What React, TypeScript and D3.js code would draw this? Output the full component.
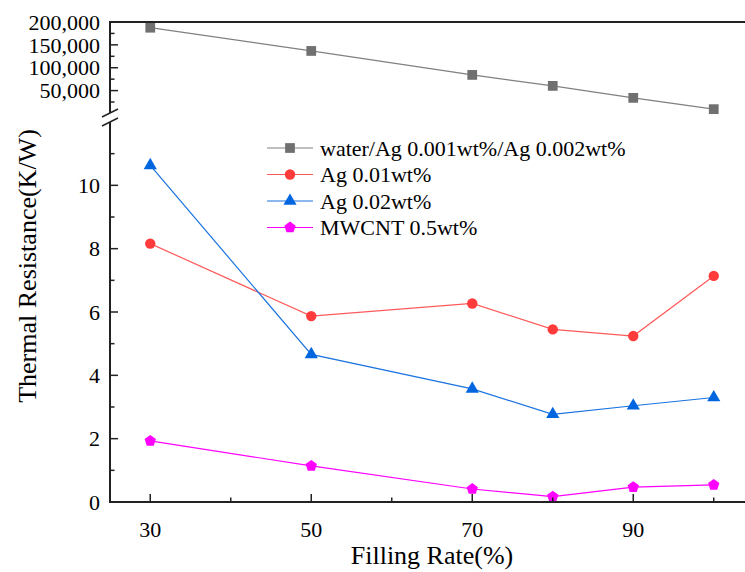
import React from "react";
import * as d3 from "d3";

const fillingRate = [30, 50, 70, 80, 90, 100];
const waterAg = [187500, 136700, 84300, 60300, 34100, 9400];
const ag001 = [8.16, 5.87, 6.27, 5.45, 5.24, 7.14];
const ag002 = [10.63, 4.66, 3.57, 2.77, 3.04, 3.3];
const mwcnt = [1.93, 1.14, 0.41, 0.17, 0.47, 0.54];

const xMajor = [30, 50, 70, 90];
const xMinor = [40, 60, 80, 100];
const topMajor = [50000, 100000, 150000, 200000];
const topMinor = [25000, 75000, 125000, 175000];
const botMajor = [0, 2, 4, 6, 8, 10];
const botMinor = [1, 3, 5, 7, 9, 11];

const legendLabels = [
  "water/Ag 0.001wt%/Ag 0.002wt%",
  "Ag 0.01wt%",
  "Ag 0.02wt%",
  "MWCNT 0.5wt%",
];

const W = 745;
const H = 572;
const left = 110;
const right = 754;
const top = 22;
const topBottom = 113;
const botTop = 122;
const bottom = 502;
const FONT = "Liberation Serif";
const axisColor = "#222";

const T = (props: any) => <text {...props} style={{ fontFamily: FONT }} />;

export default function App() {
  const x = d3.scaleLinear().domain([25, 105]).range([left, right]);
  const yTop = d3.scaleLinear().domain([1000, 200000]).range([topBottom, top]);
  const yBot = d3.scaleLinear().domain([0, 12]).range([bottom, botTop]);
  const fmt = d3.format(",");

  const series = [
    { vals: waterAg, y: yTop, line: "#808080", fill: "#707070", sym: d3.symbolSquare, size: 95 },
    { vals: ag001, y: yBot, line: "#ff5a5a", fill: "#ff3b3b", sym: d3.symbolCircle, size: 85 },
    { vals: ag002, y: yBot, line: "#1a73e0", fill: "#0066e0", sym: d3.symbolTriangle, size: 75 },
    { vals: mwcnt, y: yBot, line: "#ff00ff", fill: "#ff00ff", sym: d3.symbolDiamond, size: 85 },
  ];

  const pentagon = (size: number) => {
    const r = Math.sqrt(size / 2.4);
    const pts: [number, number][] = [];
    for (let i = 0; i < 5; i++) {
      const a = -Math.PI / 2 + (i * 2 * Math.PI) / 5;
      pts.push([r * Math.cos(a), r * Math.sin(a)]);
    }
    return "M" + pts.map((p) => p.join(",")).join("L") + "Z";
  };

  const markerPath = (i: number) => {
    const s = series[i];
    if (i === 3) return pentagon(s.size);
    return d3.symbol().type(s.sym).size(s.size)() as string;
  };

  const legendX = 267;
  const legendY = [148, 174.5, 201, 227.5];

  return (
    <svg
      width={W}
      height={H}
      style={{ position: "absolute", left: 0, top: 0, background: "#fff" }}
    >
      <rect x={0} y={0} width={W} height={H} fill="#fff" />
      {series.map((s, i) => {
        const line = d3
          .line<number>()
          .x((_, j) => x(fillingRate[j]))
          .y((v) => s.y(v));
        return <path key={"l" + i} d={line(s.vals) as string} fill="none" stroke={s.line} strokeWidth={1.2} />;
      })}
      {series.map((s, i) =>
        s.vals.map((v, j) => (
          <path
            key={"m" + i + "-" + j}
            d={markerPath(i)}
            transform={`translate(${x(fillingRate[j])},${s.y(v)})`}
            fill={s.fill}
          />
        ))
      )}
      <line x1={left} x2={right} y1={top} y2={top} stroke={axisColor} strokeWidth={2} />
      <line x1={left} x2={right} y1={bottom} y2={bottom} stroke={axisColor} strokeWidth={2} />
      <line x1={left} x2={left} y1={top - 1} y2={topBottom} stroke={axisColor} strokeWidth={2} />
      <line x1={left} x2={left} y1={botTop} y2={bottom + 1} stroke={axisColor} strokeWidth={2} />
      <line x1={left - 8} x2={left + 8} y1={topBottom + 4} y2={topBottom - 4} stroke={axisColor} strokeWidth={1.5} />
      <line x1={left - 8} x2={left + 8} y1={botTop + 4} y2={botTop - 4} stroke={axisColor} strokeWidth={1.5} />
      {topMajor.map((t) => (
        <g key={"tm" + t}>
          <line x1={left} x2={left + 8} y1={yTop(t)} y2={yTop(t)} stroke={axisColor} strokeWidth={1.5} />
          <T x={100} y={yTop(t)} dy="0.35em" textAnchor="end" fontSize={22} fill="#000">
            {fmt(t)}
          </T>
        </g>
      ))}
      {topMinor.map((t) => (
        <line key={"tn" + t} x1={left} x2={left + 4.5} y1={yTop(t)} y2={yTop(t)} stroke={axisColor} strokeWidth={1.5} />
      ))}
      {botMajor.map((t) => (
        <g key={"bm" + t}>
          <line x1={left} x2={left + 8} y1={yBot(t)} y2={yBot(t)} stroke={axisColor} strokeWidth={1.5} />
          <T x={100} y={yBot(t)} dy="0.35em" textAnchor="end" fontSize={22} fill="#000">
            {t}
          </T>
        </g>
      ))}
      {botMinor.map((t) => (
        <line key={"bn" + t} x1={left} x2={left + 4.5} y1={yBot(t)} y2={yBot(t)} stroke={axisColor} strokeWidth={1.5} />
      ))}
      {xMajor.map((t) => (
        <g key={"xm" + t}>
          <line x1={x(t)} x2={x(t)} y1={bottom} y2={bottom - 8} stroke={axisColor} strokeWidth={1.5} />
          <T x={x(t)} y={537} textAnchor="middle" fontSize={22} fill="#000">
            {t}
          </T>
        </g>
      ))}
      {xMinor.map((t) => (
        <line key={"xn" + t} x1={x(t)} x2={x(t)} y1={bottom} y2={bottom - 4.5} stroke={axisColor} strokeWidth={1.5} />
      ))}
      <T x={432} y={564} textAnchor="middle" fontSize={26} fill="#000">
        Filling Rate(%)
      </T>
      <T transform={`translate(36,266) rotate(-90)`} textAnchor="middle" fontSize={26} fill="#000">
        Thermal Resistance(K/W)
      </T>
      {series.map((s, i) => (
        <g key={"lg" + i} transform={`translate(${legendX},${legendY[i]})`}>
          <line x1={0} x2={46} y1={0} y2={0} stroke={s.line} strokeWidth={1.2} />
          <path d={markerPath(i)} transform="translate(23,0)" fill={s.fill} />
          <T x={53} y={0} dy="0.35em" fontSize={22} fill="#000">
            {legendLabels[i]}
          </T>
        </g>
      ))}
    </svg>
  );
}
